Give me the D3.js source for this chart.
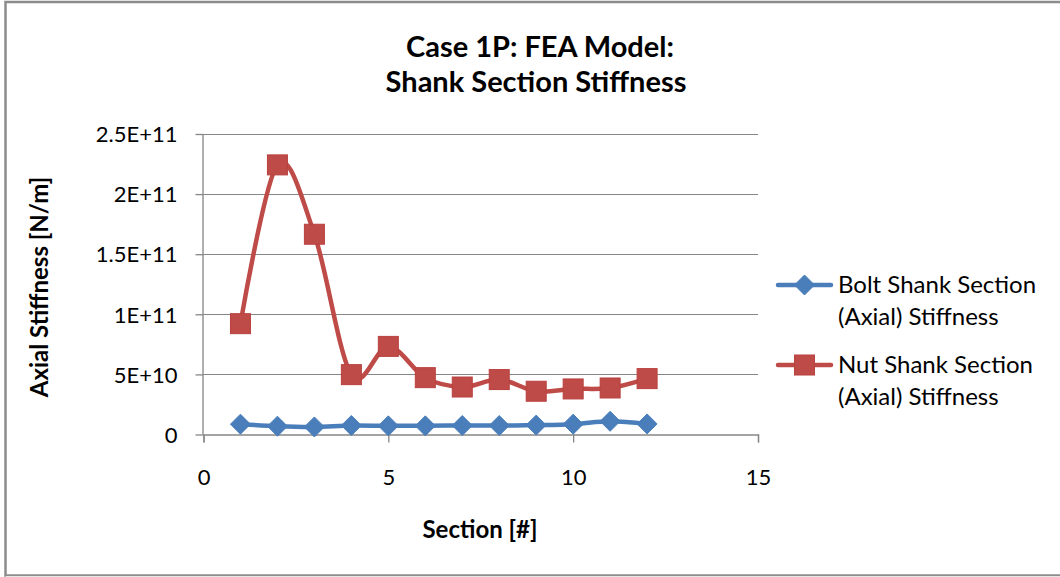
<!DOCTYPE html>
<html>
<head>
<meta charset="utf-8">
<script src="https://cdn.jsdelivr.net/npm/d3@7"></script>
<style>
body { margin:0; background:#fff; }
text { font-family: Lato, "Open Sans", sans-serif; fill:#000; }
</style>
</head>
<body>
<svg id="chart" width="1060" height="577"></svg>
<script>
// ***************** DATA ********************
var sections = [1,2,3,4,5,6,7,8,9,10,11,12];
var boltStiffness = [0.86e10,0.69e10,0.63e10,0.75e10,0.72e10,0.72e10,0.75e10,0.75e10,0.78e10,0.86e10,1.1e10,0.88e10];
var nutStiffness = [9.22e10,22.43e10,16.66e10,4.98e10,7.33e10,4.73e10,3.95e10,4.57e10,3.6e10,3.79e10,3.87e10,4.65e10];
var xTicks = [0,5,10,15];
var yTicks = [0,5e10,1e11,1.5e11,2e11,2.5e11];
var yTickLabels = ["0","5E+10","1E+11","1.5E+11","2E+11","2.5E+11"];
var seriesNames = [["Bolt Shank Section","(Axial) Stiffness"],["Nut Shank Section","(Axial) Stiffness"]];
var colors = ["#4a7ebb","#be4b48"];

var svg = d3.select("#chart");
var margin = {left:203.5, right:758, top:134, bottom:434.5};

// chart border
svg.append("rect").attr("x",5.5).attr("y",2).attr("width",1100).attr("height",573.5)
	.attr("fill","none").attr("stroke","#8c8c8c").attr("stroke-width",2.5)
svg.append("line").attr("x1",6).attr("x2",1060).attr("y1",576.5).attr("y2",576.5)
	.attr("stroke","#e6e6e6").attr("stroke-width",1)

var x = d3.scaleLinear().domain([0,15]).range([margin.left,margin.right]);
var y = d3.scaleLinear().domain([0,2.5e11]).range([margin.bottom,margin.top]);

// ************************ GRID *************************
svg.selectAll(".grid")
	.data(yTicks.slice(1))
	.enter()
	.append("line")
	.classed("grid",true)
	.attr("x1",margin.left).attr("x2",margin.right)
	.attr("y1",function(d){ return Math.round(y(d))+0.5})
	.attr("y2",function(d){ return Math.round(y(d))+0.5})
	.attr("stroke","#868686").attr("stroke-width",1.2)

// ************************ AXES *************************
var yAxis = d3.axisLeft(y).tickValues(yTicks).tickSize(8).tickPadding(18)
	.tickFormat(function(d,i){ return yTickLabels[i]})
var gy = svg.append("g").attr("transform","translate("+margin.left+",0)").call(yAxis)
var xAxis = d3.axisBottom(x).tickValues(xTicks).tickSize(8).tickPadding(27)
var gx = svg.append("g").attr("transform","translate(0,"+margin.bottom+")").call(xAxis)
;[gx,gy].forEach(function(g){
	g.select(".domain").attr("stroke","#868686").attr("stroke-width",1.3)
	g.selectAll(".tick line").attr("stroke","#868686").attr("stroke-width",1.3)
	g.selectAll("text").attr("font-family","Lato, 'Open Sans', sans-serif").attr("font-size",22).attr("fill","#000")
})
gy.select(".domain").attr("d","M-0.5,"+margin.top+"V"+margin.bottom)
gy.selectAll(".tick line").attr("x1",-8).attr("x2",0)
gy.selectAll(".tick text").attr("dy","0.35em")

// ************************ TITLES *************************
svg.append("text").attr("x",540).attr("y",57).attr("text-anchor","middle")
	.attr("font-size",29).attr("font-weight","bold").text("Case 1P: FEA Model:")
svg.append("text").attr("x",536).attr("y",92).attr("text-anchor","middle")
	.attr("font-size",29).attr("font-weight","bold").text("Shank Section Stiffness")
svg.append("text").attr("x",480).attr("y",538).attr("text-anchor","middle")
	.attr("font-size",24).attr("font-weight","bold").text("Section [#]")
svg.append("text").attr("transform","translate(40,287) rotate(-90)").attr("text-anchor","middle")
	.attr("dy","0.35em").attr("font-size",24).attr("font-weight","bold").text("Axial Stiffness [N/m]")

// ************************ SERIES *************************
var line = d3.line().curve(d3.curveCardinal.tension(0))
	.x(function(d){ return x(d[0])}).y(function(d){ return y(d[1])})

var series = [boltStiffness,nutStiffness].map(function(vals){
	return sections.map(function(s,i){ return [s,vals[i]]})
})

var drawMarker = function(g,idx,cx,cy){
	if (idx===0){
		g.append("path").attr("d","M"+cx+","+(cy-10)+"L"+(cx+10)+","+cy+"L"+cx+","+(cy+10)+"L"+(cx-10)+","+cy+"Z")
			.attr("fill",colors[0]).attr("stroke",colors[0]).attr("stroke-width",1)
	} else {
		g.append("rect").attr("x",cx-10).attr("y",cy-10).attr("width",20).attr("height",20)
			.attr("fill",colors[1]).attr("stroke","#b9413e").attr("stroke-width",1)
	}
}

series.forEach(function(data,idx){
	svg.append("path").datum(data).attr("d",line)
		.attr("fill","none").attr("stroke",colors[idx]).attr("stroke-width",4.5)
		.attr("stroke-linejoin","round").attr("stroke-linecap","round")
	var g = svg.append("g")
	data.forEach(function(d){ drawMarker(g,idx,x(d[0]),y(d[1])) })
})

// ************************ LEGEND *************************
var legendY = [285,365];
legendY.forEach(function(ly,idx){
	svg.append("line").attr("x1",778).attr("x2",831).attr("y1",ly).attr("y2",ly)
		.attr("stroke",colors[idx]).attr("stroke-width",4.5).attr("stroke-linecap","round")
	drawMarker(svg.append("g"),idx,804.5,ly)
	svg.append("text").attr("x",838).attr("y",ly+8).attr("font-size",24).text(seriesNames[idx][0])
	svg.append("text").attr("x",838).attr("y",ly+40).attr("font-size",24).text(seriesNames[idx][1])
})
</script>
</body>
</html>
